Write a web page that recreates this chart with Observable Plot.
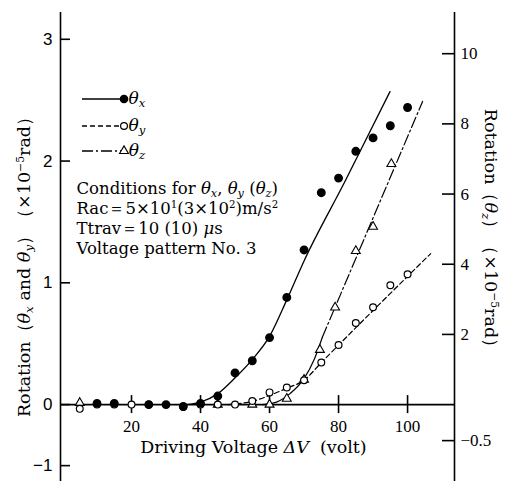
<!DOCTYPE html>
<html><head><meta charset="utf-8">
<script src="https://cdn.jsdelivr.net/npm/d3@7"></script>
<script src="https://cdn.jsdelivr.net/npm/@observablehq/plot@0.6"></script>
<style>body{margin:0;background:#fff} svg{display:block}</style>
</head><body><div id="chart"></div>
<script>
// ---- data ----
// θx (filled circles), left axis, ×10^-5 rad
const thetaXVoltage = [10, 15, 25, 30, 35, 40, 45, 50, 55, 60, 65, 70, 75, 80, 85, 90, 95, 100];
const thetaXValues  = [0.01, 0.01, 0, 0, -0.03, 0.01, 0.07, 0.26, 0.36, 0.55, 0.88, 1.27, 1.74, 1.86, 2.08, 2.19, 2.29, 2.44];
// θy (open circles), left axis
const thetaYVoltage = [5, 10, 15, 20, 25, 35, 40, 45, 50, 55, 60, 65, 70, 75, 80, 85, 90, 95, 100];
const thetaYValues  = [-0.07, 0, 0, 0, 0, -0.04, 0, 0, 0, 0.03, 0.1, 0.14, 0.2, 0.345, 0.49, 0.67, 0.8, 0.98, 1.07];
// θz (open triangles), right axis
const thetaZVoltage = [5, 45, 55, 60, 65, 70, 74.6, 79, 85, 90, 95.3];
const thetaZValues  = [0.05, 0, 0, 0, 0.17, 0.71, 1.56, 2.77, 4.38, 5.07, 6.86];
// fitted curves drawn in the figure
const fitXVoltage = [36, 40, 45, 50, 55, 60, 65, 70, 82, 94.9];
const fitXValues  = [0, 0.02, 0.09, 0.22, 0.37, 0.56, 0.86, 1.18, 1.84, 2.57];
const fitYVoltage = [48, 55, 60, 65, 70, 75, 106.7];
const fitYValues  = [0, 0.027, 0.075, 0.135, 0.2, 0.345, 1.24];
const fitZSolidVoltage = [58, 62, 66, 70, 73, 75.3];
const fitZSolidValues  = [0, 0.07, 0.32, 0.74, 1.3, 1.92];
const fitZDashVoltage  = [75.3, 104.35];
const fitZDashValues   = [1.92, 8.64];
// ticks
const xTicks = [20, 40, 60, 80, 100];
const leftTicks = [-1, 0, 1, 2, 3];
const rightTicks = [-0.5, 2, 4, 6, 8, 10];

// ---- scales: the printed axes are compressed below zero ----
const X_DOMAIN = [-0.58, 113.6];
const NEG_LEFT = 61 / 121.7;          // left axis: below-zero unit relative to above-zero unit
const Z_SCALE = 35.07 / 121.7;        // right axis unit (above zero) in left units
const NEG_RIGHT = (36 / 121.7) / 0.5; // right axis unit (below zero) in left units
const yL = v => v >= 0 ? v : v * NEG_LEFT;
const yR = z => z >= 0 ? z * Z_SCALE : z * NEG_RIGHT;
const Y_DOMAIN = [yL(-1.26), 3.22];

const pts = (vs, rs) => vs.map((v, i) => ({v, r: rs[i]}));
const ptsX = pts(thetaXVoltage, thetaXValues);
const ptsY = pts(thetaYVoltage, thetaYValues);
const ptsZ = pts(thetaZVoltage, thetaZValues);
const fX = pts(fitXVoltage, fitXValues);
const fY = pts(fitYVoltage, fitYValues);
const fZs = pts(fitZSolidVoltage, fitZSolidValues);
const fZd = pts(fitZDashVoltage, fitZDashValues);
const minus = d => d < 0 ? "\u2212" + (-d) : String(d);
const serif = "DejaVu Serif";

const th = s => `<i>θ</i><sub><i>${s}</i></sub>`;

const chart = Plot.plot({
  width: 506, height: 481,
  marginLeft: 60, marginRight: 52, marginTop: 12, marginBottom: 0,
  style: {fontFamily: "Liberation Serif", fontSize: "17px", background: "white", color: "black", overflow: "visible"},
  x: {domain: X_DOMAIN, axis: null},
  y: {domain: Y_DOMAIN, axis: null},
  marks: [
    // axes
    Plot.ruleX([X_DOMAIN[0], X_DOMAIN[1]], {stroke: "black", strokeWidth: 1.6}),
    Plot.ruleY([0], {stroke: "black", strokeWidth: 1.6}),
    Plot.ruleX(xTicks, {x: d => d, y1: 0, y2: 0, insetTop: -9, insetBottom: -9, strokeWidth: 1.6}),
    Plot.ruleY(leftTicks, {y: d => yL(d), x1: X_DOMAIN[0], x2: X_DOMAIN[0], insetRight: -10, strokeWidth: 1.6}),
    Plot.ruleY(rightTicks, {y: d => yR(d), x1: X_DOMAIN[1], x2: X_DOMAIN[1], insetLeft: -12, strokeWidth: 1.6}),
    Plot.text(leftTicks, {y: d => yL(d), frameAnchor: "left", dx: -8, textAnchor: "end", text: minus, fontFamily: "Liberation Sans", fontSize: 17}),
    Plot.text(rightTicks, {y: d => yR(d), frameAnchor: "right", dx: 6, textAnchor: "start", text: minus, fontSize: 17}),
    Plot.text(xTicks, {x: d => d, y: 0, dy: 22, text: d => String(d), fontSize: 17}),
    // fitted curves
    Plot.line(fX, {x: "v", y: d => yL(d.r), curve: "monotone-x", stroke: "black", strokeWidth: 1.3}),
    Plot.line(fY, {x: "v", y: d => yL(d.r), curve: "monotone-x", stroke: "black", strokeWidth: 1.2, strokeDasharray: "5,3"}),
    Plot.line(fZs, {x: "v", y: d => yR(d.r), curve: "monotone-x", stroke: "black", strokeWidth: 1.2}),
    Plot.line(fZd, {x: "v", y: d => yR(d.r), stroke: "black", strokeWidth: 1.2, strokeDasharray: "11,3,2,3"}),
    // points
    Plot.dot(ptsZ, {x: "v", y: d => yR(d.r), symbol: "triangle", r: 3.3, fill: "white", stroke: "black", strokeWidth: 1.1}),
    Plot.dot(ptsY, {x: "v", y: d => yL(d.r), r: 3.4, fill: "white", stroke: "black", strokeWidth: 1.2}),
    Plot.dot(ptsX, {x: "v", y: d => yL(d.r), r: 3.7, fill: "black", stroke: "black"}),
    // annotation
    Plot.text([`Conditions for ${th("x")}, ${th("y")} (${th("z")})`], {frameAnchor: "top-left", dx: 16, dy: 170, textAnchor: "start", fontFamily: serif, fontSize: 16.5}),
    Plot.text([`Rac＝5×10<sup>1</sup>(3×10<sup>2</sup>)m/s<sup>2</sup>`], {frameAnchor: "top-left", dx: 16, dy: 190, textAnchor: "start", fontFamily: serif, fontSize: 16.5}),
    Plot.text([`Ttrav＝10 (10) <i>μ</i>s`], {frameAnchor: "top-left", dx: 16, dy: 210, textAnchor: "start", fontFamily: serif, fontSize: 16.5}),
    Plot.text([`Voltage pattern No. 3`], {frameAnchor: "top-left", dx: 16, dy: 230, textAnchor: "start", fontFamily: serif, fontSize: 16.5}),
    // axis titles
    Plot.text([`Driving Voltage <i>ΔV</i>\u00a0 (volt)`], {frameAnchor: "bottom", dx: -4, dy: -29, textAnchor: "middle", fontFamily: serif, fontSize: 17.5}),
    Plot.text([`Rotation（${th("x")} and ${th("y")}）（×10<sup>−5</sup>rad）`], {frameAnchor: "left", dx: -36, dy: 15.5, rotate: -90, textAnchor: "middle", fontFamily: serif, fontSize: 17.5}),
    Plot.text([`Rotation（${th("z")}）（×10<sup>−5</sup>rad）`], {frameAnchor: "right", dx: 36, dy: -14.5, rotate: 90, textAnchor: "middle", fontFamily: serif, fontSize: 17.5})
  ]
});
document.getElementById("chart").appendChild(chart);

// legend (drawn into the same SVG)
const svg = d3.select(chart);
const legendItems = [
  {label: th("x"), dash: null, kind: "filled"},
  {label: th("y"), dash: "5,3", kind: "open"},
  {label: th("z"), dash: "11,3,2,3", kind: "triangle"}
];
const lg = svg.append("g").attr("font-family", serif).attr("font-size", 17);
legendItems.forEach((d, i) => {
  const y = [99, 126, 151][i];
  lg.append("line").attr("x1", 82).attr("x2", 123).attr("y1", y).attr("y2", y)
    .attr("stroke", "black").attr("stroke-width", 1.3).attr("stroke-dasharray", d.dash);
  if (d.kind === "triangle") {
    lg.append("path").attr("d", d3.symbol(d3.symbolTriangle, Math.PI * 3.3 * 3.3)())
      .attr("transform", `translate(124,${y})`).attr("fill", "white").attr("stroke", "black").attr("stroke-width", 1.1);
  } else {
    lg.append("circle").attr("cx", 124).attr("cy", y).attr("r", d.kind === "filled" ? 3.7 : 3.4)
      .attr("fill", d.kind === "filled" ? "black" : "white").attr("stroke", "black").attr("stroke-width", 1.2);
  }
  lg.append("text").attr("x", 137).attr("y", y).attr("dy", "0.32em").text(d.label);
});

// rich text: <i>, <sub>, <sup> -> tspans
function richify(node) {
  const s = node.textContent;
  if (!/<\/?(i|sub|sup)>/.test(s)) return;
  while (node.firstChild) node.removeChild(node.firstChild);
  let it = false, sub = false, sup = false;
  for (const part of s.split(/(<\/?(?:i|sub|sup)>)/)) {
    if (!part) continue;
    const m = part.match(/^<(\/?)(i|sub|sup)>$/);
    if (m) { const on = !m[1]; if (m[2] === "i") it = on; else if (m[2] === "sub") sub = on; else sup = on; continue; }
    const t = document.createElementNS("http://www.w3.org/2000/svg", "tspan");
    t.textContent = part;
    if (it) t.setAttribute("font-style", "italic");
    if (sub) { t.setAttribute("baseline-shift", "-3"); t.setAttribute("font-size", "68%"); }
    if (sup) { t.setAttribute("baseline-shift", "6"); t.setAttribute("font-size", "62%"); }
    node.appendChild(t);
  }
}
chart.querySelectorAll("text").forEach(richify);
</script>
</body></html>
